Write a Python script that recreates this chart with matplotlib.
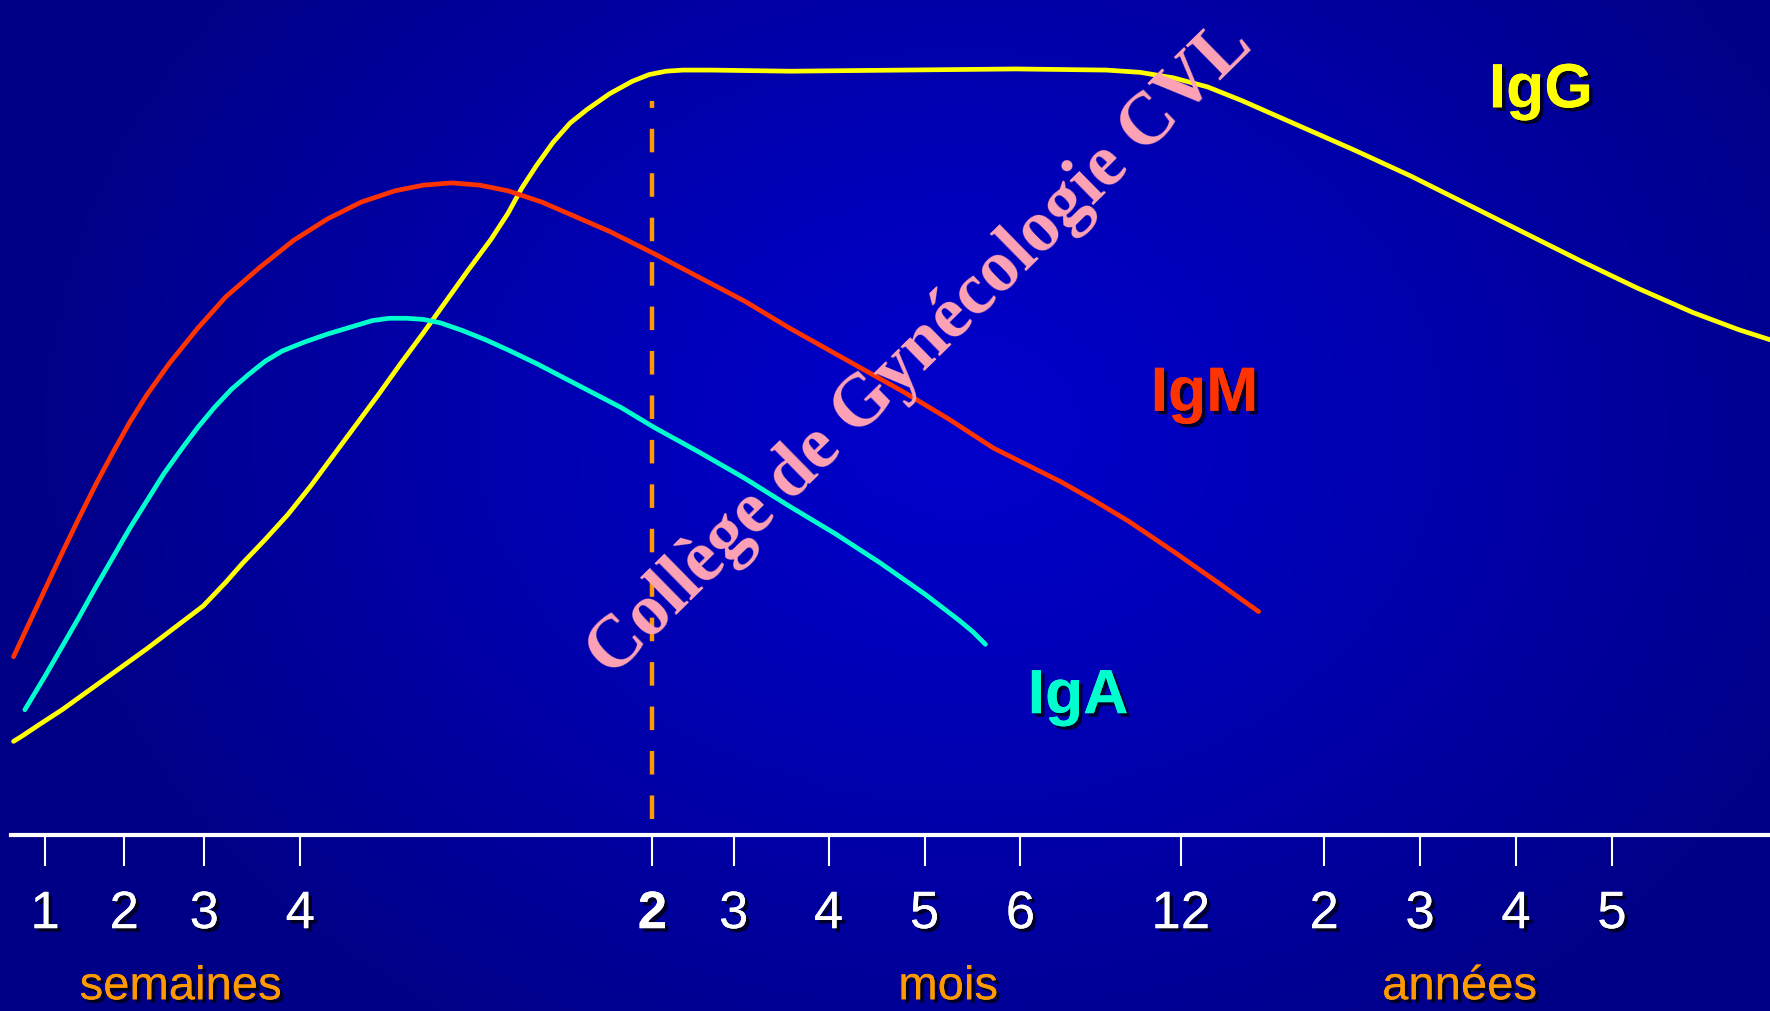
"""
Antibody response over time: IgM, IgA and IgG levels on a stretched
time axis (weeks, months, years) drawn on a slide-style blue background.
"""

import numpy as np
import matplotlib
matplotlib.use("Agg")
import matplotlib.pyplot as plt
import matplotlib.patheffects as pe

# ---------------------------------------------------------------------------
# Data (time position in arbitrary axis units, level in arbitrary units)
# ---------------------------------------------------------------------------

IGG_T = [12, 20, 35, 55, 80, 105, 130, 155, 180, 200, 215, 235, 255, 275,
         295, 315, 335, 355, 375, 395, 415, 435, 450, 462, 475, 490, 505, 520,
         540, 560, 575, 590, 605, 630, 700, 800, 900, 980, 1010, 1040, 1070,
         1100, 1150, 1200, 1250, 1300, 1350, 1400, 1450, 1500, 1540, 1568]
IGG_LEVEL = [239, 244, 254, 267, 285, 303, 321, 340, 359, 380, 397, 418, 440,
             465, 492, 519, 546, 574, 601, 629, 657, 684, 707, 729, 749, 770,
             787, 799, 813, 824, 830, 833, 834, 834, 833, 834, 835, 834, 832,
             827, 819, 807, 785, 763, 740, 715, 690, 665, 641, 619, 604, 595]

IGM_T = [12, 25, 40, 55, 70, 85, 100, 115, 130, 150, 175, 200, 230, 260, 290,
         320, 350, 375, 400, 425, 450, 480, 510, 540, 580, 620, 660, 700, 750,
         800, 840, 860, 880, 910, 940, 970, 1000, 1040, 1080, 1115]
IGM_LEVEL = [314, 342, 374, 406, 437, 467, 495, 522, 546, 574, 605, 633, 659,
             683, 702, 717, 727, 732, 734, 732, 727, 717, 704, 691, 671, 650,
             629, 605, 577, 549, 525, 512, 499, 484, 469, 452, 434, 407, 379,
             354]

IGA_T = [22, 40, 55, 70, 85, 100, 115, 130, 145, 160, 175, 190, 205, 220, 235,
         250, 270, 290, 310, 330, 345, 360, 375, 390, 410, 430, 450, 475, 500,
         550, 580, 620, 660, 700, 740, 780, 820, 850, 862, 873]
IGA_LEVEL = [267, 297, 323, 349, 376, 402, 428, 452, 476, 497, 517, 535, 551,
             564, 576, 585, 593, 600, 606, 612, 614, 614, 613, 610, 603, 595,
             586, 574, 561, 535, 517, 495, 472, 447, 423, 397, 369, 346, 336,
             325]

TICK_POS = [40, 110, 181, 266, 578, 650, 734, 819, 904, 1046, 1173, 1258,
            1343, 1428]
TICK_LABELS = ["1", "2", "3", "4", "2", "3", "4", "5", "6", "12", "2", "3",
               "4", "5"]
BOLD_TICK = 4          # index of the "2 mois" tick, drawn in bold

UNIT_LABELS = ["semaines", "mois", "années"]
UNIT_POS = [160, 840, 1293]

SECOND_MONTH = 578     # dashed marker at 2 months
MARKER_RANGE = (170, 807)

SERIES_LABELS = ["IgG", "IgM", "IgA"]
SERIES_LABEL_POS = [(1365, 801), (1067, 532), (955, 264)]

X_MAX, Y_MAX = 1568, 897
AXIS_LEVEL = 156

# ---------------------------------------------------------------------------
# Style
# ---------------------------------------------------------------------------

YELLOW = "#FFFF00"
RED = "#FF3300"
CYAN = "#00FFCC"
ORANGE = "#FF9900"
PINK = "#FFA3B5"

SANS = ["Liberation Sans", "DejaVu Sans"]
shadow = [pe.withSimplePatchShadow(offset=(2.5, -2.5), shadow_rgbFace="black",
                                   alpha=0.75), pe.Normal()]

fig = plt.figure(figsize=(17.7, 10.12), dpi=100)
ax = fig.add_axes([0, 0, 1, 1])
ax.set_xlim(0, X_MAX)
ax.set_ylim(0, Y_MAX)

# radial blue background, brightest a little right of centre
gx, gy = np.meshgrid(np.linspace(0, X_MAX, 400), np.linspace(0, Y_MAX, 240))
r = np.sqrt(((gx - 850) / 820) ** 2 + ((gy - 520) / 640) ** 2)
blue = 0.80 - (0.80 - 0.53) * np.clip(r, 0, 1) ** 1.2
bg = np.zeros(gx.shape + (3,))
bg[..., 2] = blue
ax.imshow(bg, extent=(0, X_MAX, 0, Y_MAX), origin="lower", aspect="auto",
          zorder=0)

# curves
line_kw = dict(linewidth=3.4, solid_capstyle="round", solid_joinstyle="round",
               zorder=3)
ax.plot(IGG_T, IGG_LEVEL, color=YELLOW, **line_kw)
ax.plot(IGM_T, IGM_LEVEL, color=RED, **line_kw)
ax.plot(IGA_T, IGA_LEVEL, color=CYAN, **line_kw)

ax.vlines(SECOND_MONTH, *MARKER_RANGE, colors=ORANGE, linewidth=3.2,
          linestyles=(0, (5.3, 4.7)), zorder=2)

# time axis drawn with the bottom spine
for side in ("top", "right", "left"):
    ax.spines[side].set_visible(False)
ax.spines["bottom"].set_position(("data", AXIS_LEVEL))
ax.spines["bottom"].set_color("white")
ax.spines["bottom"].set_linewidth(3)
ax.spines["bottom"].set_bounds(10, X_MAX)
ax.spines["bottom"].set_zorder(4)
ax.set_yticks([])
ax.set_xticks(TICK_POS)
ax.set_xticklabels(TICK_LABELS)
ax.tick_params(axis="x", direction="out", length=22, width=1.5,
               colors="white", pad=17, labelsize=38)
for i, lab in enumerate(ax.get_xticklabels()):
    lab.set_family(SANS)
    lab.set_path_effects(shadow)
    if i == BOLD_TICK:
        lab.set_fontweight("bold")

for text, x in zip(UNIT_LABELS, UNIT_POS):
    ax.text(x, 21, text, color=ORANGE, fontsize=34, family=SANS,
            ha="center", va="center", path_effects=shadow, zorder=5)

for text, (x, y), color in zip(SERIES_LABELS, SERIES_LABEL_POS,
                               [YELLOW, RED, CYAN]):
    ax.text(x, y, text, color=color, fontsize=45, fontweight="bold",
            family=SANS, ha="center", va="baseline", path_effects=shadow,
            zorder=5)

# diagonal watermark
ax.text(816, 587, "Collège de Gynécologie CVL", color=PINK, fontsize=53,
        fontweight="bold", family=["Liberation Serif", "DejaVu Serif"],
        rotation=44.5, rotation_mode="anchor", ha="center", va="center",
        zorder=6)

fig.savefig("out.png", dpi=100)
